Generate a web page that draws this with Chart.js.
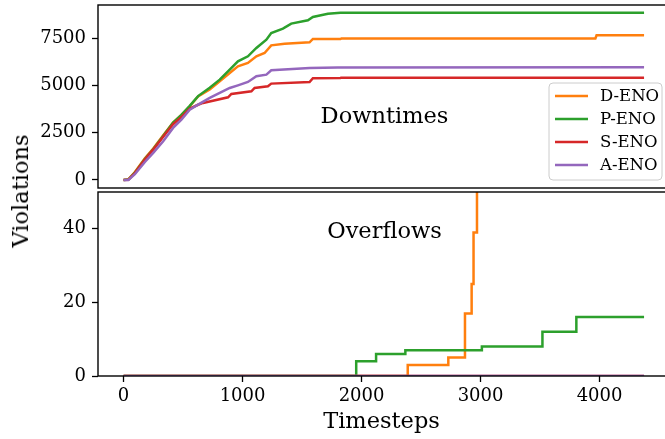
<!DOCTYPE html>
<html>
<head>
<meta charset="utf-8">
<script src="https://cdn.jsdelivr.net/npm/chart.js@4.4.1/dist/chart.umd.min.js"></script>
<style>
  body { margin: 0; background: #fff; }
  #wrap { position: relative; width: 665px; height: 439px; overflow: hidden; }
  canvas { position: absolute; left: 0; }
  #topChart { top: 0; }
  #botChart { top: 190px; }
  #ylab {
    position: absolute; left: 20px; top: 191px;
    transform: translate(-50%, -50%) rotate(-90deg);
    font: 22.5px "DejaVu Serif"; color: #000; white-space: nowrap;
  }
</style>
</head>
<body>
<div id="wrap">
  <canvas id="topChart" width="665" height="190"></canvas>
  <canvas id="botChart" width="665" height="249"></canvas>
  <div id="ylab">Violations</div>
</div>
<script>
// ---- data (timestep, cumulative violations) ----
const seriesNames = ["D-ENO", "P-ENO", "S-ENO", "A-ENO"];
const seriesColors = ["#ff7f0e", "#2ca02c", "#d62728", "#9467bd"];

const downD = [[0,0],[40,30],[95,420],[179,1150],[249,1660],[333,2360],[416,3040],[486,3440],[556,3900],[626,4420],[724,4790],[808,5220],[892,5665],[961,6016],[1045,6193],[1116,6545],[1185,6722],[1241,7128],[1353,7216],[1563,7287],[1591,7465],[1823,7470],[1830,7485],[3965,7490],[3975,7660],[4374,7660]];
const downP = [[0,0],[40,20],[95,380],[179,1100],[249,1620],[333,2330],[416,3030],[486,3440],[556,3920],[626,4440],[724,4880],[808,5310],[892,5840],[961,6280],[1045,6545],[1116,6990],[1200,7430],[1241,7780],[1339,8010],[1409,8280],[1549,8455],[1591,8630],[1717,8805],[1823,8850],[4374,8855]];
const downS = [[0,0],[40,10],[95,360],[179,1080],[249,1600],[333,2290],[416,2950],[486,3330],[556,3780],[626,3980],[668,4076],[878,4376],[906,4553],[1074,4694],[1101,4870],[1213,4959],[1241,5100],[1563,5188],[1591,5390],[1820,5395],[1830,5410],[4374,5410]];
const downA = [[0,0],[40,0],[95,300],[179,950],[249,1430],[333,2046],[416,2753],[486,3194],[556,3723],[626,3988],[724,4341],[808,4606],[892,4870],[961,5010],[1045,5188],[1116,5487],[1200,5576],[1241,5805],[1563,5929],[1800,5960],[4374,5965]];

const overD = [[0,0],[2388,3],[2729,5],[2869,17],[2925,25],[2941,39],[2970,60]];
const overP = [[0,0],[1955,4],[2122,6],[2368,7],[3011,8],[3520,12],[3805,16],[4374,16]];
const overS = [[0,0],[4374,0]];
const overA = [[0,0],[4374,0]];

const xTicks = [0, 1000, 2000, 3000, 4000];
const downTicks = [0, 2500, 5000, 7500];
const overTicks = [0, 20, 40];

const FONT = '"DejaVu Serif"';

function toXY(arr) {
  return arr.map(p => ({ x: p[0], y: p[1] }));
}

function buildDatasets(list, stepped) {
  return list.map((arr, i) => ({
    label: seriesNames[i],
    data: toXY(arr),
    borderColor: seriesColors[i],
    borderWidth: 2.5,
    pointRadius: 0,
    fill: false,
    stepped: stepped,
    order: list.length - i // later series drawn on top, like matplotlib
  }));
}

// frame, panel label and legend
const panelPlugin = {
  id: "panel",
  afterDatasetsDraw(chart, args, opts) {
    const { ctx, chartArea: a } = chart;
    ctx.save();
    ctx.strokeStyle = "#000";
    ctx.lineWidth = 1.4;
    // frame runs a little past the right edge of the window in the original
    ctx.strokeRect(a.left, a.top, a.right - a.left + 10, a.bottom - a.top);

    ctx.fillStyle = "#000";
    ctx.font = "22.5px " + FONT;
    ctx.textAlign = "center";
    ctx.textBaseline = "alphabetic";
    const cx = (a.left + a.right + 6) / 2;
    ctx.fillText(opts.text, cx, a.bottom - opts.frac * (a.bottom - a.top));

    if (opts.legend) {
      const w = 113, h = 97;
      const bx = a.right - 3 - w, by = a.bottom - 8 - h;
      ctx.beginPath();
      ctx.roundRect(bx, by, w, h, 4);
      ctx.fillStyle = "rgba(255,255,255,0.8)";
      ctx.fill();
      ctx.strokeStyle = "#cccccc";
      ctx.lineWidth = 1;
      ctx.stroke();
      ctx.font = "16.5px " + FONT;
      ctx.textAlign = "left";
      ctx.textBaseline = "middle";
      chart.data.datasets.forEach((ds, i) => {
        const ry = by + 13 + i * 23;
        ctx.strokeStyle = ds.borderColor;
        ctx.lineWidth = 2.5;
        ctx.beginPath();
        ctx.moveTo(bx + 6, ry);
        ctx.lineTo(bx + 39, ry);
        ctx.stroke();
        ctx.fillStyle = "#000";
        ctx.fillText(ds.label, bx + 51, ry + 1);
      });
    }
    ctx.restore();
  }
};

function makeChart(id, datasets, yMin, yMax, yTicks, showX, panelOpts, pad) {
  return new Chart(document.getElementById(id), {
    type: "line",
    data: { datasets },
    options: {
      responsive: false,
      animation: false,
      layout: { padding: pad },
      plugins: { legend: { display: false }, tooltip: { enabled: false }, panel: panelOpts },
      scales: {
        x: {
          type: "linear",
          min: -215,
          max: 4550,
          display: showX,
          afterBuildTicks: s => { s.ticks = xTicks.map(v => ({ value: v })); },
          afterFit: s => {
            s.height = showX ? 63 : 0;
            s.paddingLeft = 0;
            s.paddingRight = 0;
          },
          ticks: { callback: v => String(v), color: "#000", font: { family: FONT, size: 18 }, padding: 4, maxRotation: 0, autoSkip: false },
          grid: { drawOnChartArea: false, drawTicks: true, tickLength: 6, tickColor: "#000", tickWidth: 1.3 },
          border: { display: false },
          title: { display: showX, text: "Timesteps", color: "#000", font: { family: FONT, size: 22.5 }, padding: { top: 0, bottom: 3 } }
        },
        y: {
          type: "linear",
          min: yMin,
          max: yMax,
          afterBuildTicks: s => { s.ticks = yTicks.map(v => ({ value: v })); },
          afterFit: s => { s.width = 98; s.paddingTop = 0; s.paddingBottom = 0; },
          ticks: { callback: v => String(v), color: "#000", font: { family: FONT, size: 18 }, padding: 6 },
          grid: { drawOnChartArea: false, drawTicks: true, tickLength: 6, tickColor: "#000", tickWidth: 1.3 },
          border: { display: false }
        }
      }
    },
    plugins: [panelPlugin]
  });
}

makeChart("topChart", buildDatasets([downD, downP, downS, downA], false),
  -430, 9265, downTicks, false,
  { text: "Downtimes", frac: 0.355, legend: true },
  { top: 5, bottom: 2, left: 0, right: 0 });

makeChart("botChart", buildDatasets([overD, overP, overS, overA], true),
  0, 50, overTicks, true,
  { text: "Overflows", frac: 0.748, legend: false },
  { top: 2, bottom: 0, left: 0, right: 0 });
</script>
</body>
</html>
